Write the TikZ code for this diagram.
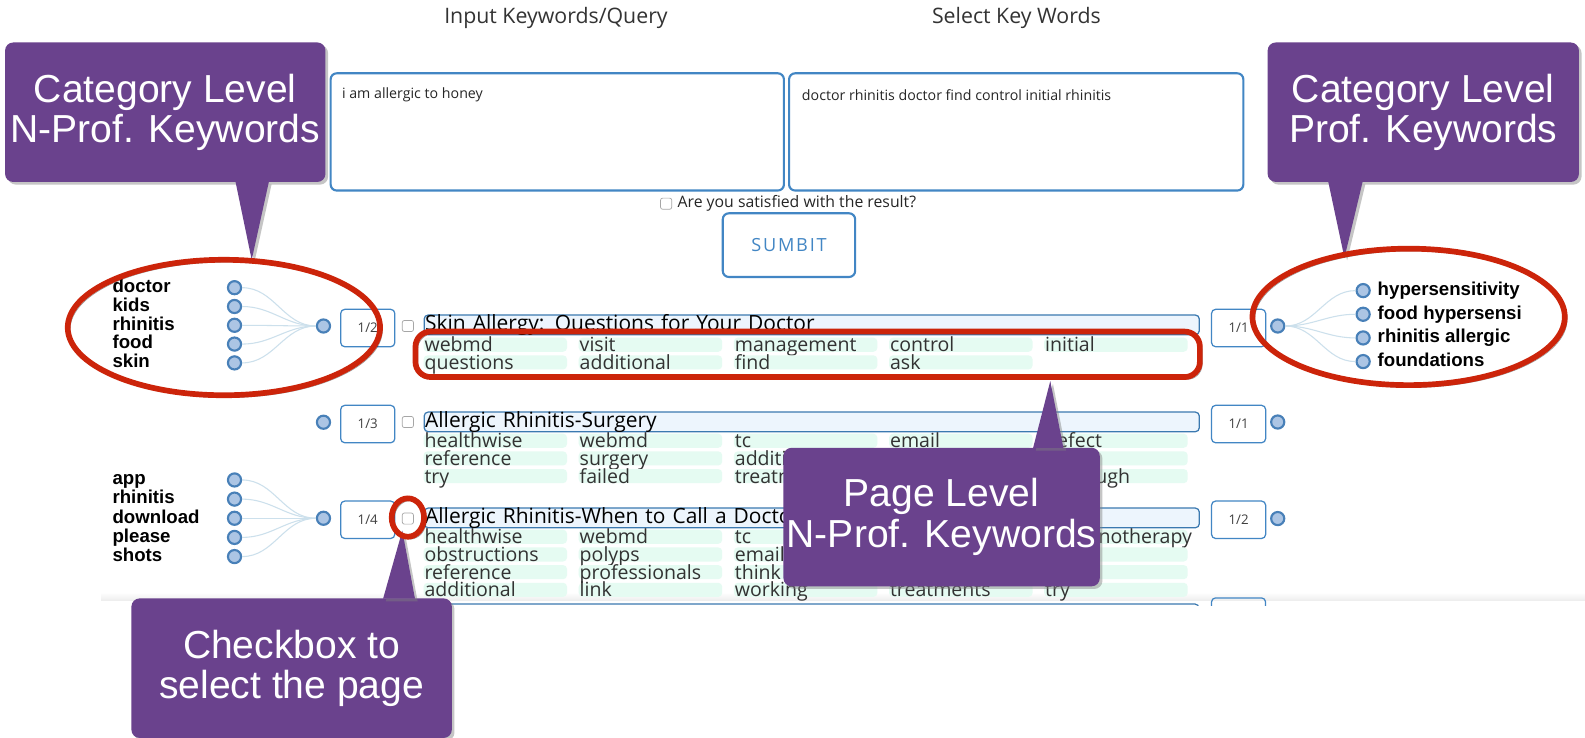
\documentclass[tikz,border=0pt]{standalone}
\usepackage{fontspec}
\setmainfont{Open Sans}
\newfontfamily\helv{Liberation Sans}
\newfontfamily\spaced[LetterSpace=10]{Open Sans}
\usetikzlibrary{positioning, calc, shadows}

\definecolor{uiBlue}{RGB}{66,134,196}
\definecolor{barFill}{RGB}{237,245,253}
\definecolor{cellFill}{RGB}{229,251,242}
\definecolor{kwText}{RGB}{50,50,50}
\definecolor{dotFill}{RGB}{172,197,228}
\definecolor{dotLine}{RGB}{72,128,184}
\definecolor{wireCol}{RGB}{204,224,236}
\definecolor{colCall}{RGB}{106,66,141}
\definecolor{colMark}{RGB}{204,36,10}

\tikzset{
    qbox/.style={draw=uiBlue, line width=1.2pt, rounded corners=1.2mm},
    boxtext/.style={font=\fontsize{8}{8}\selectfont, text=black!85},
    fracbox/.style={draw=uiBlue, line width=0.7pt, rounded corners=0.8mm, minimum width=10.7mm, minimum height=7.4mm, font=\fontsize{7.5}{7.5}\selectfont, text=black!75},
    chkbox/.style={draw=black!35, line width=0.4pt, rounded corners=0.4mm, minimum size=2.2mm},
    titlebar/.style={draw=uiBlue!90!black, fill=barFill, line width=0.7pt, rounded corners=0.8mm, text width=153mm, inner xsep=0.2mm, text height=3mm, text depth=0.9mm, align=left, font=\fontsize{11.8}{11.8}\selectfont},
    kwcell/.style={fill=cellFill, rounded corners=0.8mm, text width=28mm, inner xsep=0.2mm, text height=2.8mm, text depth=0pt, align=left, font=\fontsize{11}{11}\selectfont, text=kwText},
    kwdot/.style={circle, draw=dotLine, fill=dotFill, line width=1.2pt, minimum size=2.6mm},
    wire/.style={draw=wireCol, line width=0.6pt},
    kwlabel/.style={font=\helv\bfseries\fontsize{10.5}{10.5}\selectfont, text height=7.5pt, text depth=2pt},
    callbox/.style={fill=colCall, rounded corners=1.6mm, minimum height=27.6mm, text=white, align=center, font=\helv\fontsize{22}{22.7}\selectfont, drop shadow={opacity=0.45, shadow xshift=1.5pt, shadow yshift=-1.5pt}},
    callptr/.style={fill=colCall, drop shadow={opacity=0.45, shadow xshift=1.5pt, shadow yshift=-1.5pt}},
    redmark/.style={draw=colMark, line width=3.2pt, preaction={draw=black, opacity=0.4, transform canvas={xshift=1.3pt, yshift=-1.3pt}}}
}

\begin{document}
\begin{tikzpicture}[x=0.02cm, y=-0.02cm, every node/.style={inner sep=0pt}]
    \useasboundingbox (0,0) rectangle (1568,730);
    \fill[white] (0,0) rectangle (1568,730);
    % edge of the screenshot
    \shade[top color=white, bottom color=black!7] (100,586) rectangle (1568,594);

    % Query panel
    \node[font=\fontsize{12}{12}\selectfont, text=black!80] (hIn) at (550,18) {Input Keywords/Query};
    \node[font=\fontsize{12}{12}\selectfont, text=black!80] (hSel) at (1005.5,18) {Select Key Words};
    \node[qbox, minimum width=89.7mm, minimum height=23.2mm] (qIn) at (551.3,130.5) {};
    \node[qbox, minimum width=89.9mm, minimum height=23.2mm] (qSel) at (1005.3,130.5) {};
    \node[boxtext, anchor=west] (tIn) at (338,94) {i am allergic to honey};
    \node[boxtext, anchor=west] (tSel) at (793,94) {doctor rhinitis doctor find control initial rhinitis};
    \node[chkbox] (cSat) at (659,201.5) {};
    \node[anchor=west, font=\fontsize{8.9}{8.9}\selectfont, text=black!85] (tSat) at (670,201) {Are you satisfied with the result?};
    \node[qbox, minimum width=26.2mm, minimum height=12.6mm, text=uiBlue, font=\spaced\fontsize{10.2}{10.2}\selectfont] (bSub) at (780.5,242.5) {SUMBIT};

    % Page 1/2 : Skin Allergy
    \foreach \w [count=\i from 0] in {doctor,kids,rhinitis,food,skin} {
        \node[kwlabel, anchor=west] (la\i) at (111,{284.6+18.6*\i}) {\w};
        \node[kwdot] (da\i) at (232,{284.6+18.6*\i}) {};
    }
    \node[kwdot] (ha) at (320,322.5) {};
    \foreach \i in {0,...,4} \draw[wire] (da\i) to[out=0, in=180] (ha);
    \node[fracbox] (fa) at (363.8,324.5) {1/2};
    \node[chkbox] (ca) at (403.5,322.5) {};
    \node[titlebar, anchor=north west] (ta) at (419,311) {Skin Allergy: Questions for Your Doctor};
    \foreach \row [count=\r from 0] in {{webmd,visit,management,control,initial},{questions,additional,find,ask}}
        \foreach \w [count=\c from 0] in \row
            \node[kwcell] (ka\r\c) at ({490+153.5*\c},{341+17.5*\r}) {\w};
    \node[fracbox] (ga) at (1225.3,324.5) {1/1};
    \node[kwdot] (hb) at (1264,322.5) {};
    \foreach \w [count=\i from 0] in {hypersensitivity,food hypersensi,rhinitis allergic,foundations} {
        \node[kwdot] (ea\i) at (1348.5,{287.5+23.4*\i}) {};
        \node[kwlabel, anchor=west] (ma\i) at (1362.6,{287.5+23.4*\i}) {\w};
    }
    \foreach \i in {0,...,3} \draw[wire] (hb) to[out=0, in=180] (ea\i);

    % Page 1/3 : Surgery
    \node[kwdot] (hc) at (320,417.7) {};
    \node[fracbox] (fc) at (363.8,419.5) {1/3};
    \node[chkbox] (cc) at (403.5,417.5) {};
    \node[titlebar, anchor=north west] (tc) at (419,407) {Allergic Rhinitis-Surgery};
    \foreach \row [count=\r from 0] in {{healthwise,webmd,tc,email,defect},{reference,surgery,additional,{},{}},{try,failed,treatment,{},thorough}}
        \foreach \w [count=\c from 0] in \row
            \node[kwcell] (kc\r\c) at ({490+153.5*\c},{436+17.5*\r}) {\w};
    \node[fracbox] (gc) at (1225.3,419.5) {1/1};
    \node[kwdot] (hd) at (1264,417.5) {};

    % Page 1/4 : When to Call a Doctor
    \foreach \w [count=\i from 0] in {app,rhinitis,download,please,shots} {
        \node[kwlabel, anchor=west] (le\i) at (111,{474.8+18.95*\i}) {\w};
        \node[kwdot] (de\i) at (232,{474.8+18.95*\i}) {};
    }
    \node[kwdot] (he) at (320,512.7) {};
    \foreach \i in {0,...,4} \draw[wire] (de\i) to[out=0, in=180] (he);
    \node[fracbox] (fe) at (363.8,514.2) {1/4};
    \node[chkbox] (ce) at (403.5,513) {};
    \node[titlebar, anchor=north west] (te) at (419,502) {Allergic Rhinitis-When to Call a Doctor};
    \foreach \row [count=\r from 0] in {{healthwise,webmd,tc,{},immunotherapy},{obstructions,polyps,email,{},{}},{reference,professionals,think,{},{}},{additional,link,working,treatments,try}}
        \foreach \w [count=\c from 0] in \row
            \node[kwcell] (ke\r\c) at ({490+153.5*\c},{531+17.5*\r}) {\w};
    \node[fracbox] (ge) at (1225.3,514.2) {1/2};
    \node[kwdot] (hf) at (1264,513) {};

    % next page, cut off
    \begin{scope}
        \clip (0,588) rectangle (1568,599);
        \draw[uiBlue!90!black, line width=0.7pt, rounded corners=0.8mm] (419,597.5) rectangle (1186,620);
        \draw[uiBlue, line width=0.7pt, rounded corners=0.8mm] (1198.5,591.5) rectangle (1252,630);
    \end{scope}

    % Callouts
    \node[callbox, minimum width=63.4mm] (cA) at (163.5,111) {Category Level\\N-Prof. Keywords};
    \coordinate (tipA) at (249,257);
    \fill[callptr] ($(cA.south -| tipA)+(-16,-0.5)$) -- (tipA) -- ($(cA.south -| tipA)+(17,-0.5)$) -- cycle;

    \node[callbox, minimum width=61.6mm] (cB) at (1408,111) {Category Level\\Prof. Keywords};
    \coordinate (tipB) at (1330,255);
    \fill[callptr] ($(cB.south -| tipB)+(-16,-0.5)$) -- (tipB) -- ($(cB.south -| tipB)+(18,-0.5)$) -- cycle;

    \node[callbox, minimum width=62.6mm, minimum height=27.4mm] (cC) at (931.5,511.5) {Page Level\\N-Prof. Keywords};
    \coordinate (tipC) at (1039,377);
    \fill[callptr] ($(cC.north -| tipC)+(-17,0.5)$) -- (tipC) -- ($(cC.north -| tipC)+(13,0.5)$) -- cycle;

    \node[callbox, minimum width=63.4mm] (cD) at (288.5,661) {Checkbox to\\select the page};
    \coordinate (tipD) at (398,525);
    \fill[callptr] ($(cD.north -| tipD)+(-19,0.5)$) -- (tipD) -- ($(cD.north -| tipD)+(12.5,0.5)$) -- cycle;

    % Highlights
    \draw[redmark] (221.5,324) ellipse [x radius=154.5, y radius=67];
    \draw[redmark] (1393.5,313.5) ellipse [x radius=154.5, y radius=67.5];
    \draw[redmark, rounded corners=3mm] (411,328) rectangle (1187,373);
    \draw[redmark] (403.5,512) ellipse [x radius=16, y radius=19];
\end{tikzpicture}
\end{document}
